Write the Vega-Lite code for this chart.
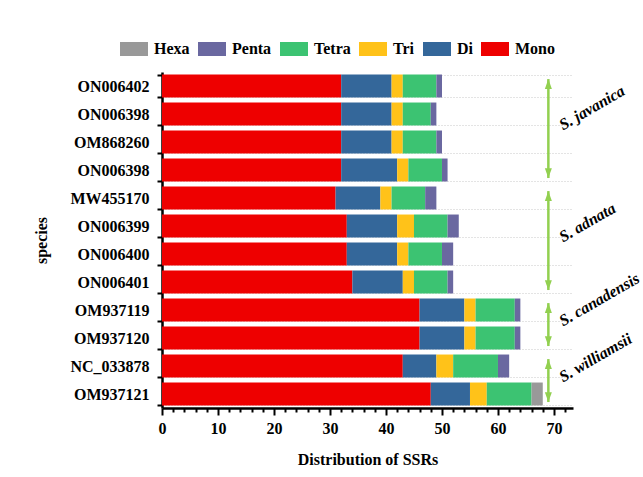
{
  "$schema": "https://vega.github.io/schema/vega-lite/v6.json",
  "width": 411,
  "height": 336,
  "autosize": {"type": "none"},
  "padding": {"left": 162, "top": 72, "right": 70, "bottom": 69},
  "background": "white",
  "config": {
    "font": "Liberation Serif",
    "view": {"stroke": null},
    "axisY": {
      "labelFontSize": 16,
      "labelFontWeight": "bold",
      "labelColor": "black",
      "labelPadding": 8,
      "tickBand": "extent",
      "tickSize": 5,
      "tickWidth": 2,
      "tickColor": "black",
      "domainColor": "black",
      "domainWidth": 2.5,
      "grid": true,
      "gridDash": [1, 2],
      "gridColor": "#c8c8c8",
      "gridWidth": 1,
      "titleFontSize": 16,
      "titleFontWeight": "bold",
      "titleColor": "black",
      "titlePadding": 20
    },
    "axisX": {
      "labelOverlap": false,
      "labelFlush": false,
      "labelFontSize": 16,
      "labelFontWeight": "bold",
      "labelColor": "black",
      "labelPadding": 5,
      "tickWidth": 2,
      "tickColor": "black",
      "domainColor": "black",
      "domainWidth": 2.5,
      "grid": false,
      "titleFontSize": 16,
      "titleFontWeight": "bold",
      "titleColor": "black",
      "titlePadding": 15
    }
  },
  "datasets": {
    "ssr": [
      {"id": "ON006402", "Mono": 32, "Di": 9, "Tri": 2, "Tetra": 6, "Penta": 1, "Hexa": 0},
      {"id": "ON006398", "Mono": 32, "Di": 9, "Tri": 2, "Tetra": 5, "Penta": 1, "Hexa": 0},
      {"id": "OM868260", "Mono": 32, "Di": 9, "Tri": 2, "Tetra": 6, "Penta": 1, "Hexa": 0},
      {"id": "ON006398|2", "Mono": 32, "Di": 10, "Tri": 2, "Tetra": 6, "Penta": 1, "Hexa": 0},
      {"id": "MW455170", "Mono": 31, "Di": 8, "Tri": 2, "Tetra": 6, "Penta": 2, "Hexa": 0},
      {"id": "ON006399", "Mono": 33, "Di": 9, "Tri": 3, "Tetra": 6, "Penta": 2, "Hexa": 0},
      {"id": "ON006400", "Mono": 33, "Di": 9, "Tri": 2, "Tetra": 6, "Penta": 2, "Hexa": 0},
      {"id": "ON006401", "Mono": 34, "Di": 9, "Tri": 2, "Tetra": 6, "Penta": 1, "Hexa": 0},
      {"id": "OM937119", "Mono": 46, "Di": 8, "Tri": 2, "Tetra": 7, "Penta": 1, "Hexa": 0},
      {"id": "OM937120", "Mono": 46, "Di": 8, "Tri": 2, "Tetra": 7, "Penta": 1, "Hexa": 0},
      {"id": "NC_033878", "Mono": 43, "Di": 6, "Tri": 3, "Tetra": 8, "Penta": 2, "Hexa": 0},
      {"id": "OM937121", "Mono": 48, "Di": 7, "Tri": 3, "Tetra": 8, "Penta": 0, "Hexa": 2}
    ],
    "groups": [
      {"name": "S. javanica", "top": "ON006402", "bottom": "ON006398|2", "mid": "OM868260"},
      {"name": "S. adnata", "top": "MW455170", "bottom": "ON006401", "mid": "ON006400"},
      {"name": "S. canadensis", "top": "OM937119", "bottom": "OM937120", "mid": "OM937120"},
      {"name": "S. williamsii", "top": "NC_033878", "bottom": "OM937121", "mid": "OM937121"}
    ]
  },
  "layer": [
    {
      "data": {"name": "ssr"},
      "transform": [
        {"fold": ["Mono", "Di", "Tri", "Tetra", "Penta", "Hexa"], "as": ["type", "count"]},
        {"calculate": "indexof(['Mono','Di','Tri','Tetra','Penta','Hexa'], datum.type)", "as": "ord"}
      ],
      "mark": {"type": "bar"},
      "encoding": {
        "y": {
          "field": "id",
          "type": "nominal",
          "title": "species",
          "scale": {
            "domain": ["ON006402", "ON006398", "OM868260", "ON006398|2", "MW455170", "ON006399", "ON006400", "ON006401", "OM937119", "OM937120", "NC_033878", "OM937121"],
            "paddingInner": 0.18,
            "paddingOuter": 0.09
          },
          "axis": {"labelExpr": "split(datum.label, '|')[0]"}
        },
        "x": {
          "field": "count",
          "type": "quantitative",
          "stack": "zero",
          "title": "Distribution of SSRs",
          "scale": {"domain": [0, 73.4], "nice": false},
          "axis": {
            "values": [0, 2, 4, 6, 8, 10, 12, 14, 16, 18, 20, 22, 24, 26, 28, 30, 32, 34, 36, 38, 40, 42, 44, 46, 48, 50, 52, 54, 56, 58, 60, 62, 64, 66, 68, 70, 72],
            "labelExpr": "datum.value % 10 === 0 ? datum.label : ''",
            "tickSize": {"condition": {"test": "datum.value % 10 === 0", "value": 7}, "value": 4}
          }
        },
        "color": {
          "field": "type",
          "type": "nominal",
          "scale": {
            "domain": ["Hexa", "Penta", "Tetra", "Tri", "Di", "Mono"],
            "range": ["#999999", "#6A68A0", "#3CC372", "#FFC219", "#34679A", "#EE0000"]
          },
          "legend": {
            "orient": "none",
            "legendX": -42,
            "legendY": -37,
            "direction": "horizontal",
            "title": null,
            "padding": 0,
            "labelFontSize": 16,
            "labelFontWeight": "bold",
            "labelColor": "black",
            "labelOffset": 6,
            "columnPadding": 8,
            "symbolType": "M-1,-0.5H1V0.5H-1Z",
            "symbolSize": 784,
            "symbolStrokeWidth": 0,
            "symbolOpacity": 1
          }
        },
        "order": {"field": "ord", "type": "quantitative"}
      }
    },
    {
      "data": {"name": "groups"},
      "mark": {"type": "rule", "color": "#92D050", "strokeWidth": 2.5},
      "encoding": {
        "x": {"datum": 69, "type": "quantitative", "title": "Distribution of SSRs",
          "axis": {
            "values": [0, 2, 4, 6, 8, 10, 12, 14, 16, 18, 20, 22, 24, 26, 28, 30, 32, 34, 36, 38, 40, 42, 44, 46, 48, 50, 52, 54, 56, 58, 60, 62, 64, 66, 68, 70, 72],
            "labelExpr": "datum.value % 10 === 0 ? datum.label : ''",
            "tickSize": {"condition": {"test": "datum.value % 10 === 0", "value": 7}, "value": 4}
          }},
        "y": {"field": "top", "type": "nominal", "bandPosition": 0.2, "title": "species", "axis": {"labelExpr": "split(datum.label, '|')[0]"}},
        "y2": {"field": "bottom", "bandPosition": 0.85}
      }
    },
    {
      "data": {"name": "groups"},
      "mark": {"type": "point", "shape": "M0,0L1,2.8L-1,2.8Z", "filled": true, "color": "#92D050", "opacity": 1, "size": 49, "strokeWidth": 0},
      "encoding": {
        "x": {"datum": 69, "type": "quantitative", "title": "Distribution of SSRs",
          "axis": {
            "values": [0, 2, 4, 6, 8, 10, 12, 14, 16, 18, 20, 22, 24, 26, 28, 30, 32, 34, 36, 38, 40, 42, 44, 46, 48, 50, 52, 54, 56, 58, 60, 62, 64, 66, 68, 70, 72],
            "labelExpr": "datum.value % 10 === 0 ? datum.label : ''",
            "tickSize": {"condition": {"test": "datum.value % 10 === 0", "value": 7}, "value": 4}
          }},
        "y": {"field": "top", "type": "nominal", "bandPosition": 0.2, "title": "species", "axis": {"labelExpr": "split(datum.label, '|')[0]"}}
      }
    },
    {
      "data": {"name": "groups"},
      "mark": {"type": "point", "shape": "M0,0L1,-2.8L-1,-2.8Z", "filled": true, "color": "#92D050", "opacity": 1, "size": 49, "strokeWidth": 0},
      "encoding": {
        "x": {"datum": 69, "type": "quantitative", "title": "Distribution of SSRs",
          "axis": {
            "values": [0, 2, 4, 6, 8, 10, 12, 14, 16, 18, 20, 22, 24, 26, 28, 30, 32, 34, 36, 38, 40, 42, 44, 46, 48, 50, 52, 54, 56, 58, 60, 62, 64, 66, 68, 70, 72],
            "labelExpr": "datum.value % 10 === 0 ? datum.label : ''",
            "tickSize": {"condition": {"test": "datum.value % 10 === 0", "value": 7}, "value": 4}
          }},
        "y": {"field": "bottom", "type": "nominal", "bandPosition": 0.85, "title": "species", "axis": {"labelExpr": "split(datum.label, '|')[0]"}}
      }
    },
    {
      "data": {"name": "groups"},
      "mark": {"type": "text", "align": "left", "baseline": "alphabetic", "angle": 330, "fontSize": 16, "fontStyle": "italic", "fontWeight": "bold", "color": "black"},
      "encoding": {
        "x": {"datum": 71.6, "type": "quantitative", "title": "Distribution of SSRs",
          "axis": {
            "values": [0, 2, 4, 6, 8, 10, 12, 14, 16, 18, 20, 22, 24, 26, 28, 30, 32, 34, 36, 38, 40, 42, 44, 46, 48, 50, 52, 54, 56, 58, 60, 62, 64, 66, 68, 70, 72],
            "labelExpr": "datum.value % 10 === 0 ? datum.label : ''",
            "tickSize": {"condition": {"test": "datum.value % 10 === 0", "value": 7}, "value": 4}
          }},
        "y": {"field": "mid", "type": "nominal", "bandPosition": 0, "title": "species", "axis": {"labelExpr": "split(datum.label, '|')[0]"}},
        "text": {"field": "name"}
      }
    }
  ]
}
